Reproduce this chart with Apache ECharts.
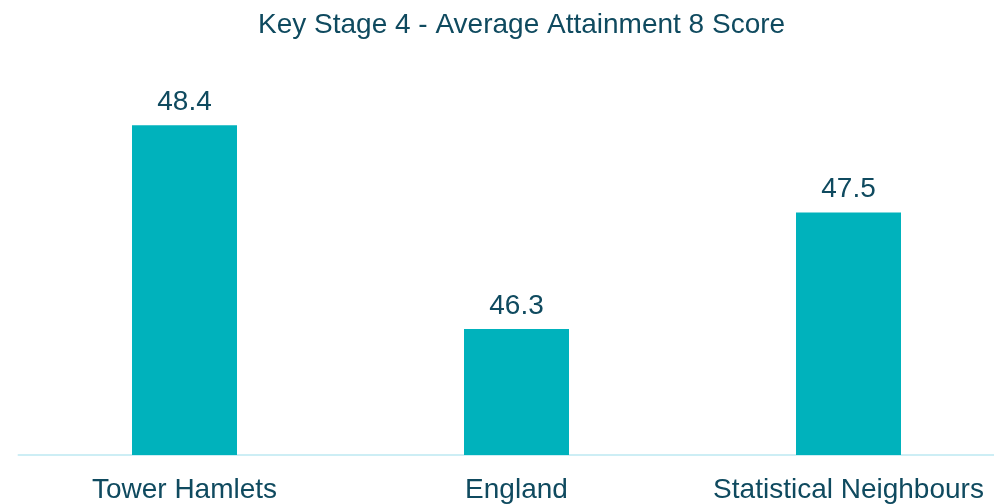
<!DOCTYPE html>
<html>
<head>
<meta charset="utf-8">
<script src="https://cdn.jsdelivr.net/npm/echarts@6/dist/echarts.min.js"></script>
<style>
  html, body { margin: 0; padding: 0; background: #ffffff; }
  #chart { width: 994px; height: 504px; }
</style>
</head>
<body>
<div id="chart"></div>
<script>
// Key Stage 4 attainment comparison
const categories = ['Tower Hamlets', 'England', 'Statistical Neighbours'];
const scores = [48.4, 46.3, 47.5];

const textColor = '#0f4a5f';
const barColor = '#00b2bc';
const font = '"Liberation Sans", Arial, sans-serif';

const chart = echarts.init(document.getElementById('chart'));
chart.setOption({
  animation: false,
  title: {
    text: 'Key Stage 4 - Average Attainment 8 Score',
    left: 253,
    top: 6,
    textStyle: { color: textColor, fontFamily: font, fontSize: 28, fontWeight: 'normal' }
  },
  grid: {
    left: 18.5, width: 996, top: 67, height: 388,
    containLabel: false,
    outerBoundsMode: 'none'
  },
  xAxis: {
    type: 'category',
    data: categories,
    axisTick: { show: false },
    axisLine: { lineStyle: { color: '#cdeef5', width: 2 } },
    axisLabel: { color: textColor, fontFamily: font, fontSize: 28, margin: 21, interval: 0, hideOverlap: false }
  },
  yAxis: {
    type: 'value',
    min: 45,
    max: 49,
    show: false,
    splitLine: { show: false }
  },
  series: [{
    type: 'bar',
    data: scores,
    barWidth: 105,
    itemStyle: { color: barColor },
    label: {
      show: true,
      position: 'top',
      distance: 9,
      color: textColor,
      fontFamily: font,
      fontSize: 28,
      formatter: p => p.value.toFixed(1)
    }
  }]
});
</script>
</body>
</html>
